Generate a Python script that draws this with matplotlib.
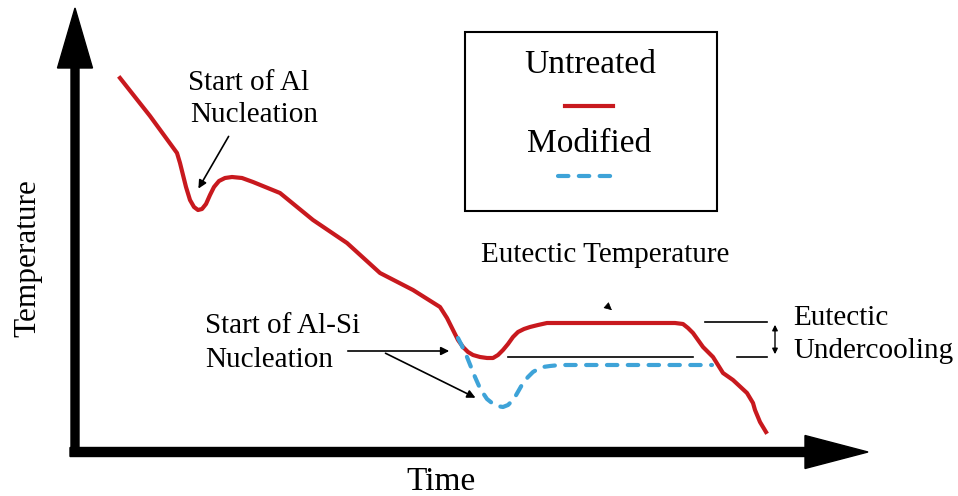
import matplotlib.pyplot as plt
from matplotlib.patches import Rectangle, FancyArrow

# schematic cooling curves (x = time, y = temperature, pixel-like units, y grows downward)
untreated_time = [120, 150, 177, 180, 183, 186, 190, 194, 198, 202, 206, 210, 214, 219, 225, 232, 242,
                  253, 280, 313, 347, 380, 413, 440, 447, 453, 458, 463, 468, 473, 480, 487, 493, 498,
                  503, 508, 513, 518, 524, 530, 538, 547, 675, 683, 688, 693, 703, 713, 723, 733, 747,
                  753, 755, 760, 766]
untreated_temp = [78, 116, 153, 163, 175, 187, 200, 207, 210, 209, 204, 195, 187, 181, 178, 177, 178,
                  182, 193, 220, 243, 273, 290, 307, 318, 330, 340, 347, 352, 355, 357, 358, 358, 355,
                  350, 344, 337, 332, 329, 327, 325, 323, 323, 324, 328, 333, 347, 357, 373, 380, 393,
                  403, 410, 422, 432]

modified_time = [458, 462, 467, 471, 475, 479, 483, 487, 492, 497, 503, 508, 512, 515, 519, 523, 528,
                 533, 538, 543, 550, 560, 712]
modified_temp = [338, 346, 357, 367, 377, 386, 393, 399, 403, 406, 407, 405, 401, 397, 390, 383, 377,
                 372, 369, 367, 366, 365, 365]

RED = '#c8191e'
BLUE = '#3ea3d8'
FONT = 'Liberation Serif'

fig = plt.figure(figsize=(9.58, 4.96), dpi=100)
ax = fig.add_axes([0, 0, 1, 1])
ax.set_xlim(0, 958)
ax.set_ylim(496, 0)
ax.axis('off')

# axes arrows
ax.add_patch(FancyArrow(75, 456, 0, -448, width=8, head_width=35, head_length=60,
                        length_includes_head=True, color='black'))
ax.add_patch(FancyArrow(70, 452, 798, 0, width=9, head_width=33, head_length=63,
                        length_includes_head=True, color='black'))

# curves
ax.plot(untreated_time, untreated_temp, color=RED, lw=3, solid_joinstyle='round', zorder=3)
ax.plot(modified_time, modified_temp, color=BLUE, lw=3, dashes=(2.5, 2.5),
        dash_capstyle='round', zorder=3)

# eutectic reference lines
ax.plot([508, 693], [357, 357], color='black', lw=1.2)
ax.plot([705, 767], [322, 322], color='black', lw=1.2)
ax.plot([737, 767], [357, 357], color='black', lw=1.2)
ax.annotate('', xy=(775, 322), xytext=(775, 357),
            arrowprops=dict(arrowstyle='<|-|>', color='black', lw=1, mutation_scale=8))

# legend box
ax.add_patch(Rectangle((465, 32), 252, 179, fill=False, edgecolor='black', lw=1.5))
ax.text(590, 73, 'Untreated', ha='center', va='baseline', fontsize=24, family=FONT)
ax.plot([565, 613], [106, 106], color=RED, lw=3)
ax.text(589, 152, 'Modified', ha='center', va='baseline', fontsize=24, family=FONT)
ax.plot([558, 620], [176, 176], color=BLUE, lw=3, dashes=(2.5, 2.5), dash_capstyle='round')

# labels
ax.text(28, 258, 'Temperature', rotation=90, ha='center', va='center', fontsize=22.5, family=FONT)
ax.text(441, 490, 'Time', ha='center', va='baseline', fontsize=24, family=FONT)
ax.text(188, 90, 'Start of Al', ha='left', va='baseline', fontsize=21, family=FONT)
ax.text(190, 122, 'Nucleation', ha='left', va='baseline', fontsize=21, family=FONT)
ax.annotate('', xy=(197, 191), xytext=(230, 134),
            arrowprops=dict(arrowstyle='-|>', color='black', lw=1.2, mutation_scale=12))

ax.text(481, 262, 'Eutectic Temperature', ha='left', va='baseline', fontsize=21, family=FONT)
ax.annotate('', xy=(614, 312), xytext=(606, 305),
            arrowprops=dict(arrowstyle='-|>', color='black', lw=0.5, mutation_scale=12))

ax.text(205, 333, 'Start of Al-Si', ha='left', va='baseline', fontsize=21, family=FONT)
ax.text(205, 367, 'Nucleation', ha='left', va='baseline', fontsize=21, family=FONT)
ax.annotate('', xy=(452, 351), xytext=(345, 351),
            arrowprops=dict(arrowstyle='-|>', color='black', lw=1.2, mutation_scale=12))
ax.annotate('', xy=(478, 399), xytext=(383, 352),
            arrowprops=dict(arrowstyle='-|>', color='black', lw=1.2, mutation_scale=12))

ax.text(793, 325, 'Eutectic', ha='left', va='baseline', fontsize=21, family=FONT)
ax.text(793, 358, 'Undercooling', ha='left', va='baseline', fontsize=21, family=FONT)

fig.savefig('out.png', dpi=100)
